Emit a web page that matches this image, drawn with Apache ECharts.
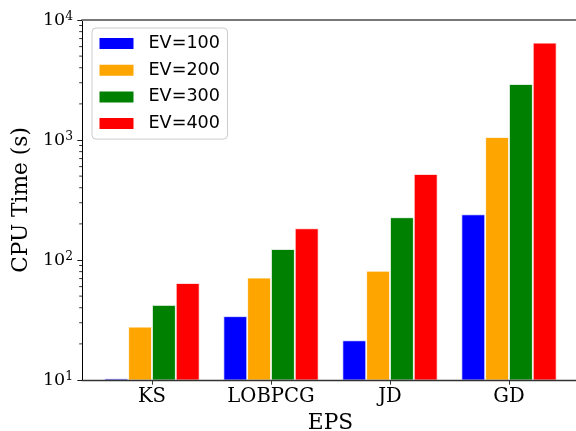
<!DOCTYPE html>
<html>
<head>
<meta charset="utf-8">
<script src="https://cdn.jsdelivr.net/npm/echarts@6/dist/echarts.min.js"></script>
<style>
html,body{margin:0;padding:0;background:#fff;}
#chart{width:576px;height:431px;}
</style>
</head>
<body>
<div id="chart"></div>
<script>
var categories = ['KS', 'LOBPCG', 'JD', 'GD'];
var seriesNames = ['EV=100', 'EV=200', 'EV=300', 'EV=400'];
var ev100 = [10.3, 34.0, 21.4, 240];
var ev200 = [27.8, 71.3, 81.4, 1059];
var ev300 = [42.2, 123.5, 227, 2929];
var ev400 = [64.3, 183.6, 521, 6466];
var colors = ['#0000ff', '#ffa500', '#008000', '#ff0000'];
var yMin = 10, yMax = 10000;
var minorTickValues = [20,30,40,50,60,70,80,90,200,300,400,500,600,700,800,900,2000,3000,4000,5000,6000,7000,8000,9000];

var chart = echarts.init(document.getElementById('chart'), null, {renderer: 'canvas'});
var serif = 'DejaVu Serif';
var allData = [ev100, ev200, ev300, ev400];
var barSeries = allData.map(function (d, i) {
  return {
    name: seriesNames[i], type: 'bar', xAxisIndex: 0, yAxisIndex: 0,
    data: d, barWidth: '20%', barGap: '0%',
    itemStyle: {color: colors[i], borderColor: '#ffffff', borderWidth: 0.8},
    emphasis: {disabled: true}
  };
});
barSeries.push({
  type: 'custom', xAxisIndex: 1, yAxisIndex: 1, clip: false, silent: true, z: 10,
  data: minorTickValues.map(function (v) { return [0, v]; }),
  renderItem: function (params, api) {
    var p = api.coord([0, api.value(1)]);
    return {type: 'line', shape: {x1: p[0] - 2.8, y1: p[1], x2: p[0], y2: p[1]},
      style: {stroke: '#000', lineWidth: 0.8}};
  }
});

chart.setOption({
  animation: false,
  backgroundColor: '#ffffff',
  color: colors,
  grid: [
    {left: 92.5, right: 7.5, top: 20, bottom: 51, outerBoundsMode: 'none', containLabel: false},
    {left: 82, right: -4, top: 20, bottom: 51, outerBoundsMode: 'none', containLabel: false}
  ],
  legend: {
    orient: 'vertical', left: 92, top: 28,
    data: seriesNames,
    icon: 'rect', itemWidth: 34, itemHeight: 11, itemGap: 8.7,
    padding: [6.5, 7.5],
    backgroundColor: 'rgba(255,255,255,0.8)', borderColor: '#cccccc', borderWidth: 1, borderRadius: 4,
    itemStyle: {borderWidth: 0},
    textStyle: {fontFamily: 'DejaVu Sans', fontSize: 17.6, color: '#000', padding: [0, 0, 0, 10]}
  },
  xAxis: [
    {
      type: 'category', gridIndex: 0, data: categories,
      axisLine: {show: false},
      axisTick: {show: true, alignWithLabel: true, length: 4.7, lineStyle: {color: '#000', width: 0.8}},
      axisLabel: {fontFamily: serif, fontSize: 19.6, color: '#000', margin: 7},
      name: 'EPS', nameLocation: 'middle', nameGap: 31,
      nameTextStyle: {fontFamily: serif, fontSize: 21.7, color: '#000'}
    },
    {
      type: 'value', gridIndex: 1, min: 0, max: 1, position: 'bottom', z: 10,
      axisLine: {show: true, lineStyle: {color: '#333', width: 1.4}},
      axisTick: {show: false}, axisLabel: {show: false}, splitLine: {show: false}
    },
    {
      type: 'value', gridIndex: 1, min: 0, max: 1, position: 'top', z: 10,
      axisLine: {show: true, lineStyle: {color: '#777', width: 1.8}},
      axisTick: {show: false}, axisLabel: {show: false}, splitLine: {show: false}
    }
  ],
  yAxis: [
    {type: 'log', gridIndex: 0, logBase: 10, min: yMin, max: yMax, show: false},
    {
      type: 'log', gridIndex: 1, logBase: 10, min: yMin, max: yMax, z: 10,
      axisLine: {show: true, lineStyle: {color: '#000', width: 1}},
      axisTick: {show: true, length: 4.7, lineStyle: {color: '#000', width: 0.9}},
      splitLine: {show: false},
      axisLabel: {
        margin: 9,
        formatter: function (v) { return '{b|10}{s|' + Math.round(Math.log10(v)) + '}'; },
        rich: {
          b: {fontFamily: serif, fontSize: 17.5, color: '#000'},
          s: {fontFamily: serif, fontSize: 12.3, color: '#000', verticalAlign: 'top'}
        }
      },
      name: 'CPU Time (s)', nameLocation: 'middle', nameGap: 48,
      nameTextStyle: {fontFamily: serif, fontSize: 21.7, color: '#000'}
    }
  ],
  series: barSeries
});
</script>
</body>
</html>
